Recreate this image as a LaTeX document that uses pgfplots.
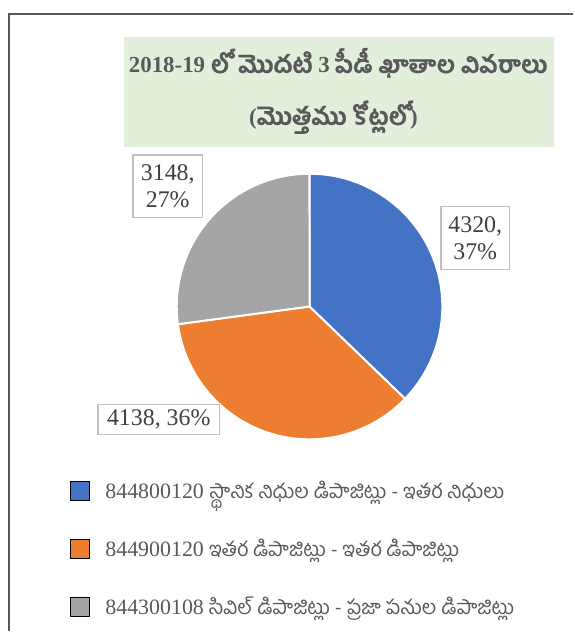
\documentclass[border=0pt]{standalone}
\usepackage{pgfplots}
\pgfplotsset{compat=1.18}
\usepackage{pgfplotstable}
\usepackage{fontspec}
\setmainfont{Liberation Serif}
\newfontfamily\tel[Script=Telugu,Scale=0.92]{Hind Guntur}
\newfontfamily\telb[Script=Telugu,FakeBold=1.2,Scale=1.05]{Hind Guntur}
\definecolor{pieblue}{HTML}{4472C4}
\definecolor{pieorange}{HTML}{ED7D31}
\definecolor{piegray}{HTML}{A5A5A5}
\definecolor{titlegreen}{HTML}{E2EFDA}
\definecolor{txtgray}{HTML}{595959}
\definecolor{lblgray}{HTML}{404040}
\definecolor{boxgray}{HTML}{BFBFBF}
\definecolor{framegray}{HTML}{595959}

\pgfplotstableread{
label value
A 4320
B 4138
C 3148
}\piedata

\begin{document}
\begin{tikzpicture}
\pgfplotstablegetelem{0}{value}\of\piedata \edef\va{\pgfplotsretval}
\pgfplotstablegetelem{1}{value}\of\piedata \edef\vb{\pgfplotsretval}
\pgfplotstablegetelem{2}{value}\of\piedata \edef\vc{\pgfplotsretval}
\pgfmathsetmacro\tot{\va+\vb+\vc}
\pgfmathsetmacro\fa{\va/\tot}
\pgfmathsetmacro\fb{\vb/\tot}
\pgfmathsetmacro\fc{\vc/\tot}
\pgfmathsetmacro\aA{90-360*\fa}
\pgfmathsetmacro\aB{\aA-360*\fb}
\pgfmathsetmacro\aC{\aB-360*\fc}
\begin{axis}[
  width=574bp, height=632bp, scale only axis,
  xmin=0, xmax=574, ymin=0, ymax=632, y dir=reverse,
  hide axis, clip=false,
  legend style={at={(axis cs:70,480)}, anchor=north west, draw=none, fill=none,
    inner sep=0pt, row sep=35bp, font=\fontsize{22}{26}\selectfont, text=txtgray,
    /tikz/every odd column/.append style={column sep=14bp}},
  legend cell align=left,
  legend image code/.code={\fill[#1] (0bp,-9.5bp) rectangle (19bp,9.5bp);},
]
% full picture area
\path (axis cs:0,0) (axis cs:574,632);
% frame
\draw[framegray, line width=2bp] (axis cs:9,632) -- (axis cs:9,14) -- (axis cs:574,14);
% title
\fill[titlegreen] (axis cs:124,37) rectangle (axis cs:555,147);
\node[text=txtgray, anchor=base, inner sep=0pt, font=\fontsize{23}{28}\selectfont\bfseries] at (axis cs:338.5,73)
  {2018-19 {\telb లో మొదటి} 3 {\telb పీడీ ఖాతాల వివరాలు}};
\node[text=txtgray, anchor=base, inner sep=0pt, font=\fontsize{23}{28}\selectfont\bfseries] at (axis cs:334,125)
  {({\telb మొత్తము కోట్లలో})};
% pie
\filldraw[fill=pieblue, draw=white, line width=2bp, line join=round]
  (axis cs:310,307) -- ++(90:133bp) arc[start angle=90, end angle=\aA, radius=133bp] -- cycle;
\filldraw[fill=pieorange, draw=white, line width=2bp, line join=round]
  (axis cs:310,307) -- ++(\aA:133bp) arc[start angle=\aA, end angle=\aB, radius=133bp] -- cycle;
\filldraw[fill=piegray, draw=white, line width=2bp, line join=round]
  (axis cs:310,307) -- ++(\aB:133bp) arc[start angle=\aB, end angle=\aC, radius=133bp] -- cycle;
% data labels
\node[draw=boxgray, fill=white, line width=1.5bp, text=lblgray, align=center,
  minimum width=69bp, minimum height=63bp, inner sep=0pt,
  font=\fontsize{24}{27}\selectfont] at (axis cs:476,238.5) {4320,\\37\%};
\node[draw=boxgray, fill=white, line width=1.5bp, text=lblgray, align=center,
  minimum width=70bp, minimum height=63bp, inner sep=0pt,
  font=\fontsize{24}{27}\selectfont] at (axis cs:168,186.5) {3148,\\27\%};
\node[draw=boxgray, fill=white, line width=1.5bp, text=lblgray, align=center,
  minimum width=122bp, minimum height=30bp, inner sep=0pt,
  font=\fontsize{24}{27}\selectfont] at (axis cs:159,420) {4138, 36\%};
% legend
\addlegendimage{fill=pieblue}
\addlegendentry{844800120 {\tel స్థానిక నిధుల డిపాజిట్లు - ఇతర నిధులు}}
\addlegendimage{fill=pieorange}
\addlegendentry{844900120 {\tel ఇతర డిపాజిట్లు - ఇతర డిపాజిట్లు}}
\addlegendimage{fill=piegray}
\addlegendentry{844300108 {\tel సివిల్ డిపాజిట్లు - ప్రజా పనుల డిపాజిట్లు}}
\end{axis}
\end{tikzpicture}
\end{document}
